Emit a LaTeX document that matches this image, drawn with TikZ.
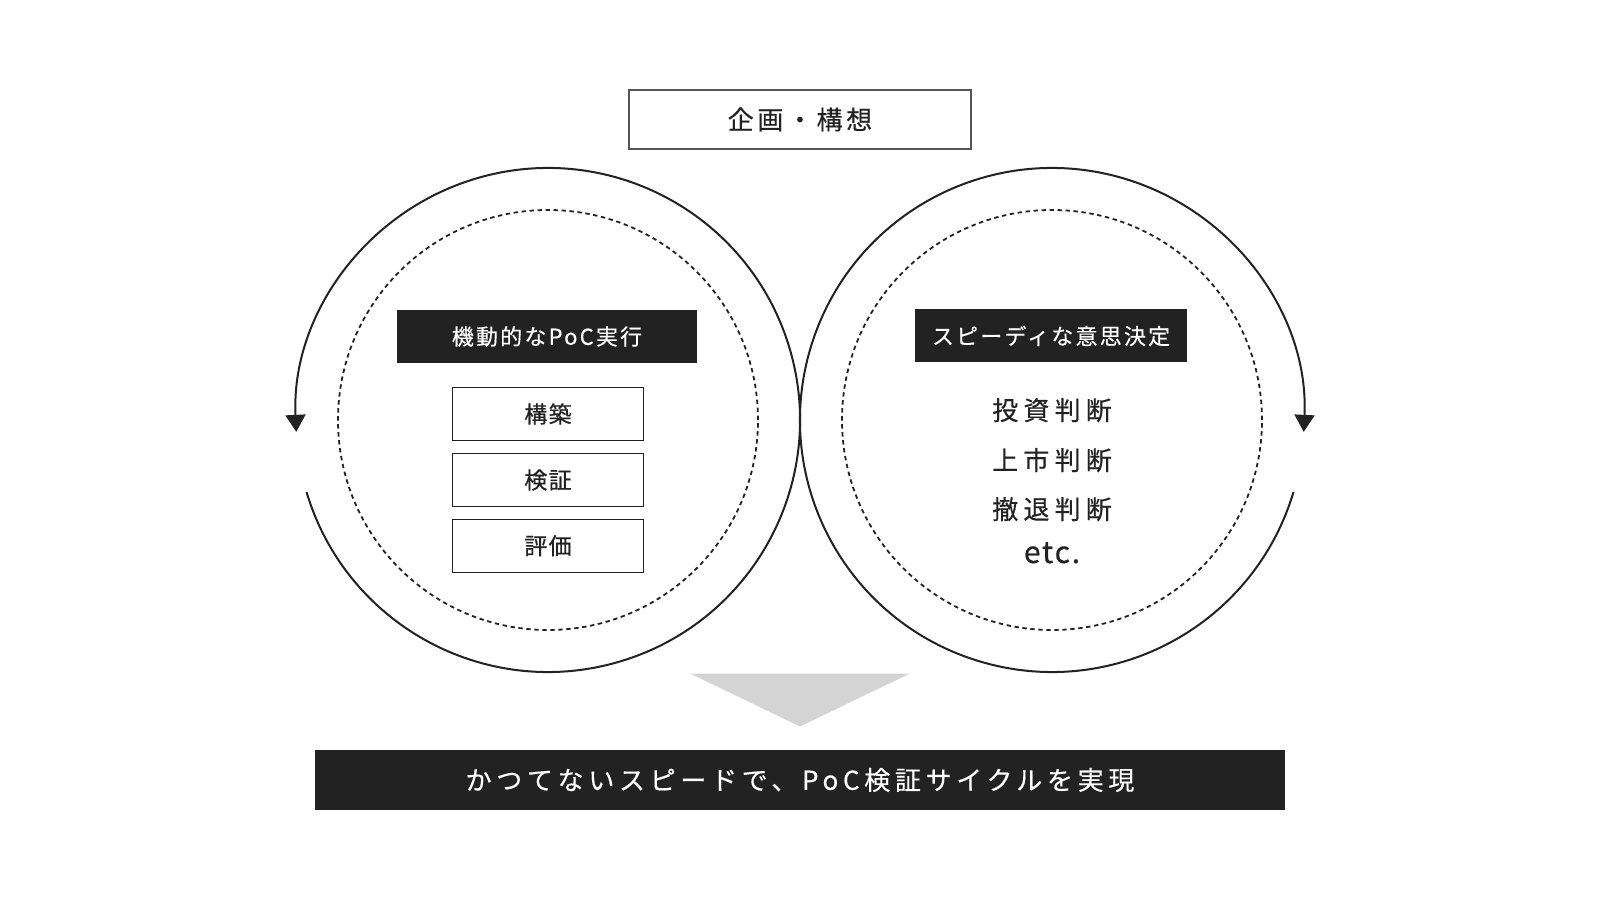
\documentclass[tikz,border=0pt]{standalone}
\usepackage{fontspec}
\setmainfont{Noto Sans CJK JP}
\newfontfamily\titlefont[LetterSpace=14,FakeBold=0.4]{Noto Sans CJK JP}
\newfontfamily\labelfont[LetterSpace=10,FakeBold=0.3]{Noto Sans CJK JP}
\newfontfamily\itemfont[LetterSpace=6,FakeBold=0.7]{Noto Sans CJK JP}
\newfontfamily\listfont[LetterSpace=20,FakeBold=0.5]{Noto Sans CJK JP}
\newfontfamily\etcfont[LetterSpace=6,FakeBold=0.5]{Noto Sans CJK JP}
\newfontfamily\barfont[LetterSpace=18,FakeBold=0.4]{Noto Sans CJK JP}
\usetikzlibrary{arrows.meta}
\definecolor{ink}{HTML}{222222}
\definecolor{frame}{HTML}{555555}
\definecolor{pale}{HTML}{D4D4D4}

\begin{document}
\begin{tikzpicture}[x=0.5pt, y=0.5pt, every node/.style={inner sep=0pt, outer sep=0pt, text=ink},
  ring/.style={ink, line width=1pt, -{Triangle[width=10pt,length=8.5pt]}},
  dotring/.style={ink, line width=0.9pt, dash pattern=on 2.2pt off 1.8pt},
  titlebox/.style={draw=frame, line width=0.6pt, fill=white, minimum width=171pt, minimum height=29.5pt, font=\titlefont\fontsize{13pt}{15pt}\selectfont},
  headbox/.style={fill=ink, text=white, minimum height=26.5pt, font=\labelfont\fontsize{11pt}{13pt}\selectfont},
  itembox/.style={draw=ink, line width=0.6pt, minimum width=95.5pt, minimum height=26.5pt, font=\itemfont\fontsize{11.5pt}{13pt}\selectfont},
  judge/.style={anchor=base, font=\listfont\fontsize{13pt}{15pt}\selectfont}]
  \useasboundingbox (0,0) rectangle (1600,900);

  % Centres of the two loops
  \coordinate (leftc) at (548,480);
  \coordinate (rightc) at (1052,480);

  % Outer loops with arrows
  \draw[ring] ([shift={(196.6:252)}]leftc) arc[start angle=196.6, end angle=542.7, radius=252];
  \draw[ring] ([shift={(-16.6:252)}]rightc) arc[start angle=-16.6, end angle=-362.7, radius=252];

  % Inner dotted rings
  \draw[dotring] (leftc) circle[radius=210];
  \draw[dotring] (rightc) circle[radius=210];

  % Top box
  \node[titlebox] (plan) at (800,780.5) {企画・構想};

  % Left loop
  \node[headbox, minimum width=150pt] (poc) at (547,563.5) {機動的なPoC実行};
  \node[itembox] (build) at (548,486) {構築};
  \node[itembox] (verify) at (548,420) {検証};
  \node[itembox] (assess) at (548,354.3) {評価};

  % Right loop
  \node[headbox, minimum width=136pt] (decide) at (1051,564) {スピーディな意思決定};
  \node[judge] (invest) at (1052,480) {投資判断};
  \node[judge] (market) at (1052,430) {上市判断};
  \node[judge] (retreat) at (1052,381) {撤退判断};
  \node[judge, font=\etcfont\fontsize{15pt}{17pt}\selectfont] (etc) at (1052,337) {etc.};

  % Down arrow and result bar
  \fill[pale] (690,226.5) -- (910,226.5) -- (800,173.5) -- cycle;
  \node[fill=ink, text=white, minimum width=485pt, minimum height=30pt, font=\barfont\fontsize{13pt}{15pt}\selectfont] (result) at (800,120) {かつてないスピードで、PoC検証サイクルを実現};
\end{tikzpicture}
\end{document}
